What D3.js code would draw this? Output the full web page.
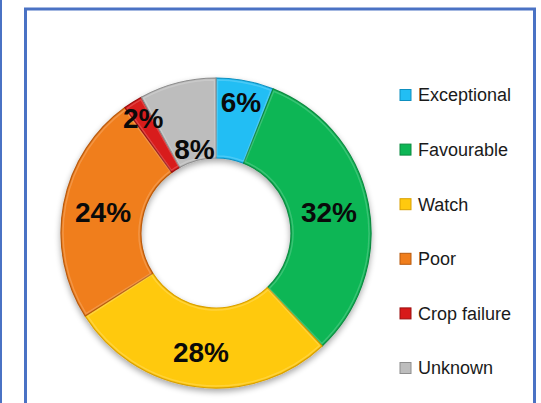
<!DOCTYPE html>
<html><head><meta charset="utf-8">
<script src="https://cdn.jsdelivr.net/npm/d3@7"></script>
<style>html,body{margin:0;padding:0;background:#fff;}svg{display:block;}</style>
</head><body>
<svg id="chart" width="541" height="403"></svg>
<script>
const categories = ["Exceptional", "Favourable", "Watch", "Poor", "Crop failure", "Unknown"];
const values = [6, 32, 28, 24, 2, 8];
const colors = ["#22BEF4", "#0DB655", "#FFC90E", "#F07E1C", "#D81A1A", "#BDBDBD"];
const edgeColors = ["#0E8FBF", "#0A8A40", "#D9A000", "#B85A0E", "#9A0F0F", "#8E8E8E"];
// label radius (px from centre) for each slice
const labelRadius = [133, 115, 120, 115, 136, 87];

const svg = d3.select("#chart");
const W = 541, H = 403;

// frames
svg.append("rect").attr("x", 0).attr("y", 0).attr("width", 2).attr("height", H).attr("fill", "#4A72C4");
svg.append("rect").attr("x", 25.5).attr("y", 9).attr("width", 509).attr("height", H + 20)
  .attr("fill", "#fff").attr("stroke", "#4A72C4").attr("stroke-width", 3);

const cx = 216, cy = 233, rOuter = 155, rInner = 75;
const g = svg.append("g").attr("transform", `translate(${cx},${cy})`);

const defs = svg.append("defs");
const f = defs.append("filter").attr("id", "shadow").attr("x", "-20%").attr("y", "-20%").attr("width", "140%").attr("height", "140%");
f.append("feGaussianBlur").attr("in", "SourceAlpha").attr("stdDeviation", 3).attr("result", "b");
f.append("feOffset").attr("in", "b").attr("dx", 0).attr("dy", 3).attr("result", "o");
f.append("feComponentTransfer").attr("in", "o").attr("result", "o2")
  .append("feFuncA").attr("type", "linear").attr("slope", 0.35);
const m = f.append("feMerge");
m.append("feMergeNode").attr("in", "o2");
m.append("feMergeNode").attr("in", "SourceGraphic");

const data = categories.map((c, i) => ({ cat: c, value: values[i], color: colors[i], edge: edgeColors[i], lr: labelRadius[i] }));
const pie = d3.pie().value(d => d.value).sort(null).startAngle(0).endAngle(2 * Math.PI);
const arcs = pie(data);
const arc = d3.arc().innerRadius(rInner).outerRadius(rOuter);

const slices = g.append("g").attr("filter", "url(#shadow)");
slices.selectAll("path.s").data(arcs).join("path").attr("class", "s")
  .attr("d", arc).attr("fill", d => d.data.color)
  .attr("stroke", d => d.data.edge).attr("stroke-width", 1.2).attr("stroke-linejoin", "round");

// subtle bevel highlight
const inner = d3.arc().innerRadius(rInner + 2).outerRadius(rOuter - 2);
slices.selectAll("path.h").data(arcs).join("path").attr("class", "h")
  .attr("d", d => inner({ startAngle: d.startAngle + 0.01, endAngle: d.endAngle - 0.01 }))
  .attr("fill", "none").attr("stroke", "#fff").attr("stroke-opacity", 0.18).attr("stroke-width", 1.5);

g.selectAll("text.lbl").data(arcs).join("text").attr("class", "lbl")
  .attr("transform", d => {
    const a = (d.startAngle + d.endAngle) / 2;
    return `translate(${Math.sin(a) * d.data.lr},${-Math.cos(a) * d.data.lr})`;
  })
  .attr("text-anchor", "middle").attr("dy", "0.36em")
  .attr("font-family", "'Liberation Sans', Arial, sans-serif").attr("font-weight", "bold")
  .attr("font-size", 28).attr("fill", "#0a0a0a")
  .text(d => d.data.value + "%");

// legend
const legend = svg.append("g");
const y0 = 95, step = 54.6;
const items = legend.selectAll("g").data(data).join("g")
  .attr("transform", (d, i) => `translate(400,${y0 + i * step})`);
items.append("rect").attr("x", 0).attr("y", -5.5).attr("width", 11).attr("height", 11)
  .attr("fill", d => d.color).attr("stroke", d => d.edge).attr("stroke-width", 1);
items.append("text").attr("x", 18).attr("dy", "0.36em")
  .attr("font-family", "'Liberation Sans', Arial, sans-serif").attr("font-size", 18).attr("fill", "#1a1a1a")
  .text(d => d.cat);
</script>
</body></html>
